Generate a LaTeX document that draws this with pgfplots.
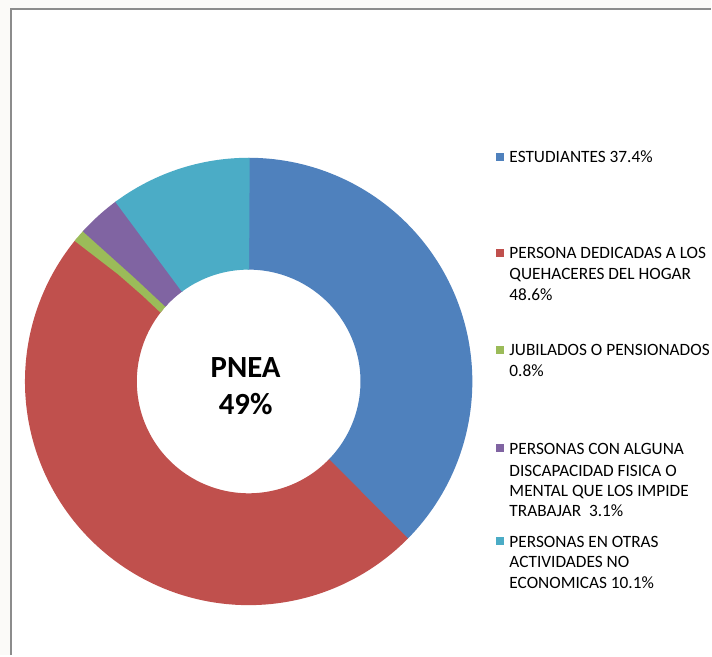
\documentclass[border=0pt]{standalone}
\usepackage{pgfplots}
\usepackage{pgfplotstable}
\pgfplotsset{compat=1.18}
\usepackage{fontspec}
\setmainfont{Carlito}
\definecolor{cBlue}{HTML}{4F81BD}
\definecolor{cRed}{HTML}{C0504D}
\definecolor{cGreen}{HTML}{9BBB59}
\definecolor{cPurple}{HTML}{8064A2}
\definecolor{cCyan}{HTML}{4BACC6}
\definecolor{bgout}{HTML}{FBFAF8}
\definecolor{frame}{HTML}{8C8C8C}
\pgfplotstableread{
value color
37.4 cBlue
48.6 cRed
0.8 cGreen
3.1 cPurple
10.1 cCyan
}\piedata
\begin{document}
\begin{tikzpicture}
\begin{axis}[
  width=712pt, height=656pt, scale only axis,
  xmin=0, xmax=712, ymin=0, ymax=656,
  hide axis, clip=false,
]
% background and frame
\fill[bgout] (axis cs:0,0) rectangle (axis cs:712,656);
\fill[white] (axis cs:11,0) rectangle (axis cs:712,647);
\draw[frame, line width=2pt] (axis cs:11,0) -- (axis cs:11,647) -- (axis cs:712,647);
% donut
\xdef\startang{90}
\pgfplotsforeachungrouped \i in {0,...,4}{%
  \pgfplotstablegetelem{\i}{value}\of\piedata \let\v\pgfplotsretval
  \pgfplotstablegetelem{\i}{color}\of\piedata \let\c\pgfplotsretval
  \pgfmathsetmacro{\endang}{\startang-3.6*\v}%
  \pgfmathsetmacro{\a}{\endang-0.25}%
  \pgfmathsetmacro{\b}{\startang+0.25}%
  \edef\cmd{\noexpand\addplot[draw=\c, line width=112pt, domain=\a:\b, samples=120] ({249+168*cos(x)},{274+168*sin(x)});}%
  \cmd
  \xdef\startang{\endang}%
}
% center text
\node[font=\fontsize{30.8}{36}\selectfont\bfseries, anchor=base] at (axis cs:246,278) {PNEA};
\node[font=\fontsize{30.8}{36}\selectfont\bfseries, anchor=base] at (axis cs:246,241) {49\%};
% legend
\begin{scope}[every node/.style={font=\fontsize{17.3}{20}\selectfont, anchor=base west, inner sep=0pt}]
\fill[cBlue] (axis cs:497,495) rectangle (axis cs:505,503);
\node at (axis cs:510,493) {ESTUDIANTES 37.4\%};
\fill[cRed] (axis cs:497,399) rectangle (axis cs:505,407);
\node at (axis cs:510,397) {PERSONA DEDICADAS A LOS};
\node at (axis cs:510,376) {QUEHACERES DEL HOGAR};
\node at (axis cs:510,355) {48.6\%};
\fill[cGreen] (axis cs:497,302) rectangle (axis cs:505,310);
\node at (axis cs:510,300) {JUBILADOS O PENSIONADOS};
\node at (axis cs:510,279) {0.8\%};
\fill[cPurple] (axis cs:497,203) rectangle (axis cs:505,211);
\node at (axis cs:510,201) {PERSONAS CON ALGUNA};
\node at (axis cs:510,179) {DISCAPACIDAD FISICA O};
\node at (axis cs:510,159) {MENTAL QUE LOS IMPIDE};
\node at (axis cs:510,139) {TRABAJAR\ \ 3.1\%};
\fill[cCyan] (axis cs:497,110) rectangle (axis cs:505,118);
\node at (axis cs:510,108) {PERSONAS EN OTRAS};
\node at (axis cs:510,88) {ACTIVIDADES NO};
\node at (axis cs:510,67) {ECONOMICAS 10.1\%};
\end{scope}
\end{axis}
\end{tikzpicture}
\end{document}
